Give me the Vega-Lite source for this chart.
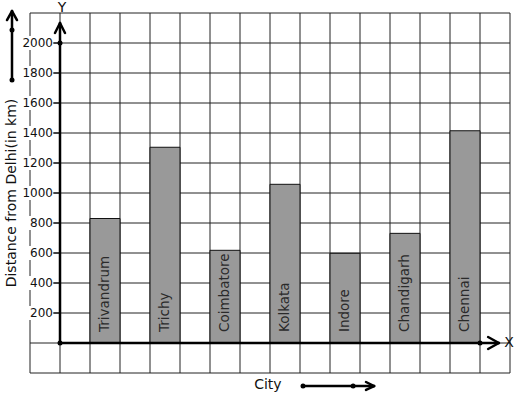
{
  "$schema": "https://vega.github.io/schema/vega-lite/v6.json",
  "width": 480,
  "height": 360,
  "autosize": {"type": "none"},
  "padding": {"left": 30, "top": 13, "right": 7, "bottom": 26},
  "background": "white",
  "config": {"view": {"stroke": null}, "font": "DejaVu Sans"},
  "datasets": {
    "cities": [
      {"City": "Trivandrum", "Distance": 830, "slot": 1.5},
      {"City": "Trichy", "Distance": 1305, "slot": 3.5},
      {"City": "Coimbatore", "Distance": 618, "slot": 5.5},
      {"City": "Kolkata", "Distance": 1058, "slot": 7.5},
      {"City": "Indore", "Distance": 598, "slot": 9.5},
      {"City": "Chandigarh", "Distance": 731, "slot": 11.5},
      {"City": "Chennai", "Distance": 1415, "slot": 13.5}
    ],
    "vgrid": [{"gx": -1}, {"gx": 0}, {"gx": 1}, {"gx": 2}, {"gx": 3}, {"gx": 4}, {"gx": 5}, {"gx": 6}, {"gx": 7}, {"gx": 8}, {"gx": 9}, {"gx": 10}, {"gx": 11}, {"gx": 12}, {"gx": 13}, {"gx": 14}, {"gx": 15}],
    "hgrid": [{"gy": -200}, {"gy": 0}, {"gy": 200}, {"gy": 400}, {"gy": 600}, {"gy": 800}, {"gy": 1000}, {"gy": 1200}, {"gy": 1400}, {"gy": 1600}, {"gy": 1800}, {"gy": 2000}, {"gy": 2200}],
    "ylabels": [{"v": 200}, {"v": 400}, {"v": 600}, {"v": 800}, {"v": 1000}, {"v": 1200}, {"v": 1400}, {"v": 1600}, {"v": 1800}, {"v": 2000}],
    "segments": [
      {"x": 0, "y": 0, "x2": 0, "y2": 2133},
      {"x": -0.167, "y": 2067, "x2": 0, "y2": 2133},
      {"x": 0.167, "y": 2067, "x2": 0, "y2": 2133},
      {"x": 0, "y": 0, "x2": 14.63, "y2": 0},
      {"x": 14.27, "y": 40, "x2": 14.63, "y2": 0},
      {"x": 14.27, "y": -40, "x2": 14.63, "y2": 0},
      {"x": -1.6, "y": 1753, "x2": -1.6, "y2": 2213},
      {"x": -1.767, "y": 2153, "x2": -1.6, "y2": 2213},
      {"x": -1.433, "y": 2153, "x2": -1.6, "y2": 2213},
      {"x": 8.1, "y": -287, "x2": 10.47, "y2": -287},
      {"x": 10.2, "y": -260, "x2": 10.47, "y2": -287},
      {"x": 10.2, "y": -313, "x2": 10.47, "y2": -287}
    ],
    "dots": [
      {"x": 0, "y": 0}, {"x": 0, "y": 2000}, {"x": 14, "y": 0},
      {"x": -1.6, "y": 2087}, {"x": -1.6, "y": 1753},
      {"x": 8.1, "y": -287}, {"x": 9.77, "y": -287}
    ],
    "texts": [
      {"t": "Y", "x": 0.07, "y": 2233},
      {"t": "X", "x": 14.97, "y": 0},
      {"t": "City", "x": 6.93, "y": -280}
    ],
    "title": [{"t": "Distance from Delhi(in km)", "x": -1.6, "y": 1000}]
  },
  "encoding": {
    "x": {"type": "quantitative", "scale": {"domain": [-1, 15], "nice": false, "zero": false, "padding": 0}, "axis": null},
    "y": {"type": "quantitative", "scale": {"domain": [-200, 2200], "nice": false, "zero": false, "padding": 0}, "axis": null}
  },
  "layer": [
    {
      "data": {"name": "vgrid"},
      "mark": {"type": "rule", "color": "#222", "strokeWidth": 1},
      "encoding": {"x": {"field": "gx", "type": "quantitative"}, "y": null}
    },
    {
      "data": {"name": "hgrid"},
      "mark": {"type": "rule", "color": "#222", "strokeWidth": 1},
      "encoding": {"y": {"field": "gy", "type": "quantitative"}, "x": null}
    },
    {
      "data": {"name": "cities"},
      "mark": {"type": "bar", "width": 30, "fill": "#999999", "stroke": "#111", "strokeWidth": 1},
      "encoding": {
        "x": {"field": "slot", "type": "quantitative"},
        "y": {"field": "Distance", "type": "quantitative"},
        "y2": {"datum": 0}
      }
    },
    {
      "data": {"name": "cities"},
      "mark": {"type": "text", "angle": 270, "align": "left", "baseline": "middle", "fontSize": 13.5, "color": "#2a2a2a", "yOffset": -11},
      "encoding": {
        "x": {"field": "slot", "type": "quantitative"},
        "y": {"datum": 0},
        "text": {"field": "City"}
      }
    },
    {
      "data": {"name": "ylabels"},
      "mark": {"type": "point", "shape": "M-2.29,-1H2.29V1H-2.29Z", "size": 196, "filled": true, "color": "white", "opacity": 1, "strokeWidth": 0, "xOffset": -22},
      "encoding": {"x": {"datum": 0}, "y": {"field": "v", "type": "quantitative"}}
    },
    {
      "data": {"name": "ylabels"},
      "mark": {"type": "rule", "color": "#111", "strokeWidth": 1.2},
      "encoding": {"x": {"datum": -0.23}, "x2": {"datum": 0}, "y": {"field": "v", "type": "quantitative"}}
    },
    {
      "data": {"name": "ylabels"},
      "mark": {"type": "text", "align": "right", "baseline": "middle", "fontSize": 12, "dx": -7, "color": "#111"},
      "encoding": {"x": {"datum": 0}, "y": {"field": "v", "type": "quantitative"}, "text": {"field": "v"}}
    },
    {
      "data": {"name": "segments"},
      "mark": {"type": "rule", "color": "black", "strokeWidth": 2.5, "strokeCap": "round"},
      "encoding": {
        "x": {"field": "x", "type": "quantitative"},
        "x2": {"field": "x2"},
        "y": {"field": "y", "type": "quantitative"},
        "y2": {"field": "y2"}
      }
    },
    {
      "data": {"name": "dots"},
      "mark": {"type": "point", "shape": "circle", "filled": true, "color": "black", "opacity": 1, "size": 25},
      "encoding": {"x": {"field": "x", "type": "quantitative"}, "y": {"field": "y", "type": "quantitative"}}
    },
    {
      "data": {"name": "texts"},
      "mark": {"type": "text", "align": "center", "baseline": "middle", "fontSize": 14, "color": "#111"},
      "encoding": {"x": {"field": "x", "type": "quantitative"}, "y": {"field": "y", "type": "quantitative"}, "text": {"field": "t"}}
    },
    {
      "data": {"name": "title"},
      "mark": {"type": "text", "angle": 270, "align": "center", "baseline": "middle", "fontSize": 14, "color": "#111"},
      "encoding": {"x": {"field": "x", "type": "quantitative"}, "y": {"field": "y", "type": "quantitative"}, "text": {"field": "t"}}
    }
  ]
}
